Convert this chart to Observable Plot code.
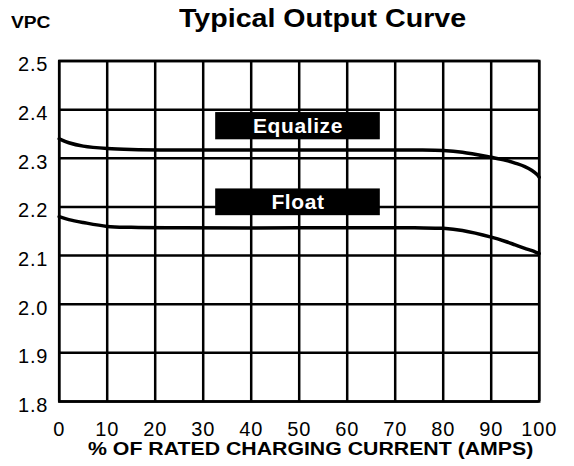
<!DOCTYPE html>
<html>
<head>
<meta charset="utf-8">
<script src="https://cdn.jsdelivr.net/npm/d3@7"></script>
<script src="https://cdn.jsdelivr.net/npm/@observablehq/plot@0.6"></script>
<style>
  html, body { margin: 0; padding: 0; background: #fff; }
  #wrap { position: relative; width: 574px; height: 466px; overflow: hidden; font-family: "Liberation Sans", Arial, sans-serif; color: #000; }
  .hdr { position: absolute; white-space: nowrap; font-weight: bold; line-height: 1; transform-origin: 0 0; }
  #title { left: 179px; top: 5px; font-size: 26px; transform: scaleX(1.1); }
  #vpc { left: 11px; top: 15px; font-size: 16px; transform: scaleX(1.2); }
  #xlabel { left: 88px; top: 439px; font-size: 19px; transform: scaleX(1.12); }
  #chart { position: absolute; left: 0; top: 0; }
  #chart g[aria-label="x-axis tick label"] text,
  #chart g[aria-label="y-axis tick label"] text { letter-spacing: 0.8px; }
  #chart g[aria-label="text"] text { letter-spacing: 0.6px; }
</style>
</head>
<body>
<div id="wrap">
  <div id="chart"></div>
  <div class="hdr" id="vpc">VPC</div>
  <div class="hdr" id="title">Typical Output Curve</div>
  <div class="hdr" id="xlabel">% OF RATED CHARGING CURRENT (AMPS)</div>
</div>
<script>
// Tick values
const xTicks = [0, 10, 20, 30, 40, 50, 60, 70, 80, 90, 100];
const yTicks = [1.8, 1.9, 2.0, 2.1, 2.2, 2.3, 2.4, 2.5];

// Curves: % of rated current vs volts per cell
const current   = [0, 2, 5, 10, 15, 25, 50, 74, 80, 84, 90, 93, 95, 97, 98.5, 99.5, 100];
const equalizeV = [2.340, 2.332, 2.325, 2.320, 2.318, 2.317, 2.317, 2.317, 2.316, 2.3125, 2.302, 2.296, 2.290, 2.283, 2.275, 2.267, 2.261];
const floatV    = [2.180, 2.174, 2.168, 2.160, 2.158, 2.157, 2.157, 2.157, 2.156, 2.1515, 2.138, 2.129, 2.122, 2.115, 2.110, 2.106, 2.104];

// Label boxes
const labelNames = ["Equalize", "Float"];
const labelX1 = [32.6, 32.6];
const labelX2 = [66.9, 66.9];
const labelY1 = [2.338, 2.182];
const labelY2 = [2.394, 2.237];

const rows = [
  ...current.map((x, i) => ({x, v: equalizeV[i], series: "Equalize"})),
  ...current.map((x, i) => ({x, v: floatV[i], series: "Float"}))
];
const labels = labelNames.map((name, i) => ({
  name, x1: labelX1[i], x2: labelX2[i], y1: labelY1[i], y2: labelY2[i],
  xm: (labelX1[i] + labelX2[i]) / 2, ym: (labelY1[i] + labelY2[i]) / 2
}));

const chart = Plot.plot({
  width: 574,
  height: 466,
  marginTop: 60.5,
  marginRight: 35.3,
  marginBottom: 65,
  marginLeft: 58.7,
  x: {domain: [0, 100]},
  y: {domain: [1.8, 2.5]},
  style: {fontFamily: "'Liberation Sans', Arial, sans-serif", color: "#000", background: "transparent", overflow: "visible"},
  marks: [
    Plot.ruleX(xTicks, {stroke: "#000", strokeWidth: 2.5}),
    Plot.ruleY(yTicks, {stroke: "#000", strokeWidth: 2.5}),
    Plot.frame({stroke: "#000", strokeWidth: 2.5, strokeLinecap: "square"}),
    Plot.line(rows, {x: "x", y: "v", z: "series", curve: "catmull-rom", stroke: "#000", strokeWidth: 3.5}),
    Plot.rect(labels, {x1: "x1", x2: "x2", y1: "y1", y2: "y2", fill: "#000"}),
    Plot.text(labels, {x: "xm", y: "ym", text: "name", fill: "#fff", fontSize: 21, fontWeight: "bold"}),
    Plot.axisX({ticks: xTicks, tickSize: 0, tickPadding: 20, fontSize: 20, label: null}),
    Plot.axisY({ticks: yTicks, tickSize: 0, tickPadding: 11, fontSize: 20, tickFormat: ".1f", label: null, dy: 4})
  ]
});
document.getElementById("chart").appendChild(chart);
</script>
</body>
</html>
